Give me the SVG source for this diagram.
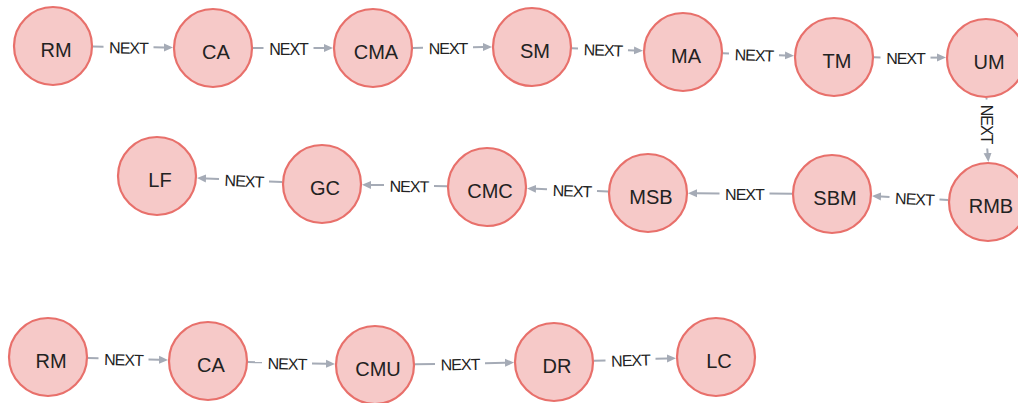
<svg xmlns="http://www.w3.org/2000/svg" width="1018" height="403" viewBox="0 0 1018 403">
<style>
.node circle{fill:#f6c9c8;stroke:#e8706b;stroke-width:2.2}
.node text{font-family:"Liberation Sans",Arial,sans-serif;font-size:20px;fill:#222;text-anchor:middle}
.edge path{fill:none;stroke:#a5abb6;stroke-width:2}
.edge text{font-family:"Liberation Sans",Arial,sans-serif;font-size:16px;letter-spacing:-1px;fill:#222;text-anchor:middle}
</style>
<defs>
<marker id="arr" markerUnits="userSpaceOnUse" viewBox="0 -5 10 10" markerWidth="10" markerHeight="10" refX="0" refY="0" orient="auto">
<path d="M0,-4 L9,0 L0,4 Z" fill="#a5abb6"/>
</marker>
</defs>
<rect width="1018" height="403" fill="#ffffff"/>
<g id="connectors">
<g class="edge"><path d="M93,46.5 L103.5,46.7"/><path d="M153.5,47.3 L164,47.4" marker-end="url(#arr)"/><text x="128.5" y="53.5" transform="rotate(0.7 128.5 47)">NEXT</text></g>
<g class="edge"><path d="M253,48 L263.5,48"/><path d="M313.5,48 L324,48" marker-end="url(#arr)"/><text x="288.5" y="54.5">NEXT</text></g>
<g class="edge"><path d="M413,48 L423,47.8"/><path d="M473,47.2 L483,47.1" marker-end="url(#arr)"/><text x="448" y="54" transform="rotate(-0.4 448 47.5)">NEXT</text></g>
<g class="edge"><path d="M572,48.3 L578,48.5"/><path d="M628,50.2 L634,50.4" marker-end="url(#arr)"/><text x="603" y="55.8" transform="rotate(1.9 603 49.3)">NEXT</text></g>
<g class="edge"><path d="M723,53.3 L729,53.5"/><path d="M779,55.2 L785,55.4" marker-end="url(#arr)"/><text x="754" y="60.9" transform="rotate(1.9 754 54.4)">NEXT</text></g>
<g class="edge"><path d="M874,57.3 L880.5,57.4"/><path d="M930.5,57.6 L937,57.6" marker-end="url(#arr)"/><text x="905.5" y="64" transform="rotate(0.2 905.5 57.5)">NEXT</text></g>
<g class="edge"><path d="M986.3,98 L986.8,99.5"/><path d="M987.2,148.5 L987.6,153" marker-end="url(#arr)"/><text x="987" y="130.5" transform="rotate(90 987 124)">NEXT</text></g>
<g class="edge"><path d="M948,200 L939.5,199.5"/><path d="M889.5,197 L881,196.5" marker-end="url(#arr)"/><text x="914.5" y="204.7" transform="rotate(2.9 914.5 198.2)">NEXT</text></g>
<g class="edge"><path d="M792,193.8 L769.5,193.6"/><path d="M719.5,193.4 L697,193.3" marker-end="url(#arr)"/><text x="744.5" y="200" transform="rotate(0.3 744.5 193.5)">NEXT</text></g>
<g class="edge"><path d="M608,191.5 L597,191.1"/><path d="M547,189.3 L536,188.8" marker-end="url(#arr)"/><text x="572" y="196.7" transform="rotate(2.1 572 190.2)">NEXT</text></g>
<g class="edge"><path d="M447,186.3 L434,186.1"/><path d="M384,185.1 L371,184.9" marker-end="url(#arr)"/><text x="409" y="192.1" transform="rotate(1 409 185.6)">NEXT</text></g>
<g class="edge"><path d="M282,182 L269,181.4"/><path d="M219,179 L206,178.4" marker-end="url(#arr)"/><text x="244" y="186.7" transform="rotate(2.8 244 180.2)">NEXT</text></g>
<g class="edge"><path d="M88,358 L98.5,358.3"/><path d="M148.5,359.5 L159,359.8" marker-end="url(#arr)"/><text x="123.5" y="365.4" transform="rotate(1.4 123.5 358.9)">NEXT</text></g>
<g class="edge"><path d="M248,362 L262,362.3"/><path d="M312,363.5 L326,363.8" marker-end="url(#arr)"/><text x="287" y="369.4" transform="rotate(1.4 287 362.9)">NEXT</text></g>
<g class="edge"><path d="M415,364.3 L435,364"/><path d="M485,363.2 L505,362.8" marker-end="url(#arr)"/><text x="460" y="370.1" transform="rotate(-1 460 363.6)">NEXT</text></g>
<g class="edge"><path d="M594,360.8 L605.5,360.4"/><path d="M655.5,358.8 L667,358.5" marker-end="url(#arr)"/><text x="630.5" y="366.1" transform="rotate(-1.8 630.5 359.6)">NEXT</text></g>
</g>
<g id="n-rm1" class="node"><circle cx="53" cy="46" r="39"/><text x="56" y="56.7">RM</text></g>
<g id="n-ca1" class="node"><circle cx="213" cy="48" r="39"/><text x="216" y="58.7">CA</text></g>
<g id="n-cma" class="node"><circle cx="373" cy="48" r="39"/><text x="376" y="58.7">CMA</text></g>
<g id="n-sm" class="node"><circle cx="532" cy="47" r="39"/><text x="535" y="57.7">SM</text></g>
<g id="n-ma" class="node"><circle cx="683" cy="52" r="39"/><text x="686" y="62.7">MA</text></g>
<g id="n-tm" class="node"><circle cx="834" cy="57" r="39"/><text x="837" y="67.7">TM</text></g>
<g id="n-um" class="node"><circle cx="986" cy="58" r="39"/><text x="989" y="68.7">UM</text></g>
<g id="n-rmb" class="node"><circle cx="988" cy="202" r="39"/><text x="991" y="212.7">RMB</text></g>
<g id="n-sbm" class="node"><circle cx="832" cy="194" r="39"/><text x="835" y="204.7">SBM</text></g>
<g id="n-msb" class="node"><circle cx="648" cy="193" r="39"/><text x="651" y="203.7">MSB</text></g>
<g id="n-cmc" class="node"><circle cx="487" cy="187" r="39"/><text x="490" y="197.7">CMC</text></g>
<g id="n-gc" class="node"><circle cx="322" cy="184" r="39"/><text x="325" y="194.7">GC</text></g>
<g id="n-lf" class="node"><circle cx="157" cy="176" r="39"/><text x="160" y="186.7">LF</text></g>
<g id="n-rm2" class="node"><circle cx="48" cy="357" r="39"/><text x="51" y="367.7">RM</text></g>
<g id="n-ca2" class="node"><circle cx="208" cy="361" r="39"/><text x="211" y="371.7">CA</text></g>
<g id="n-cmu" class="node"><circle cx="375" cy="365" r="39"/><text x="378" y="375.7">CMU</text></g>
<g id="n-dr" class="node"><circle cx="554" cy="362" r="39"/><text x="557" y="372.7">DR</text></g>
<g id="n-lc" class="node"><circle cx="716" cy="357" r="39"/><text x="719" y="367.7">LC</text></g>
</svg>
